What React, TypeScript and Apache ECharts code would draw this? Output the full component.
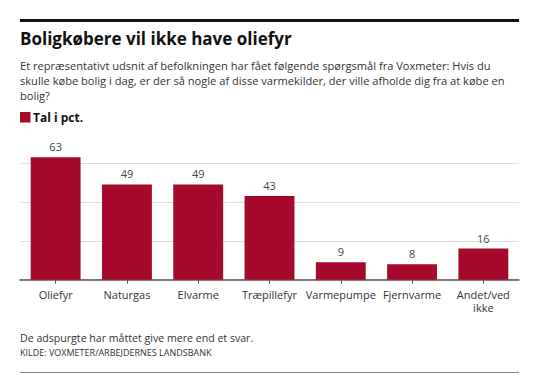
import React, { useEffect, useRef } from "react";
import * as echarts from "echarts";

const categories = ["Oliefyr", "Naturgas", "Elvarme", "Træpillefyr", "Varmepumpe", "Fjernvarme", "Andet/ved ikke"];
const values = [63, 49, 49, 43, 9, 8, 16];
const titleText = "Boligkøbere vil ikke have oliefyr";
const subtitleLines = [
  "Et repræsentativt udsnit af befolkningen har fået følgende spørgsmål fra Voxmeter: Hvis du",
  "skulle købe bolig i dag, er der så nogle af disse varmekilder, der ville afholde dig fra at købe en",
  "bolig?",
];
const legendText = "Tal i pct.";
const noteText = "De adspurgte har måttet give mere end et svar.";
const sourceText = "KILDE: VOXMETER/ARBEJDERNES LANDSBANK";

const FONT = "'Open Sans', 'Noto Sans', sans-serif";
const BAR = "#a50a2d";

export default function App() {
  const ref = useRef<HTMLDivElement>(null);
  useEffect(() => {
    if (!ref.current) return;
    const chart = echarts.init(ref.current, null, { renderer: "svg" });
    chart.setOption({
      animation: false,
      backgroundColor: "#ffffff",
      grid: { left: 20, right: 16, top: 124.2, bottom: 107.3, containLabel: false },
      xAxis: {
        type: "category",
        data: categories,
        axisLine: { show: true, lineStyle: { color: "#555555", width: 1.5 } },
        axisTick: { show: true, alignWithLabel: true, length: 4, lineStyle: { color: "#555555" } },
        axisLabel: {
          interval: 0,
          margin: 8,
          color: "#333333",
          fontFamily: FONT,
          fontSize: 11,
          lineHeight: 13,
          formatter: (v: string) => (v.length > 12 ? v.replace(" ", "\n") : v),
        },
      },
      yAxis: {
        type: "value",
        min: 0,
        max: 80,
        interval: 20,
        axisLabel: { show: false },
        axisLine: { show: false },
        axisTick: { show: false },
        splitLine: { show: true, showMaxLine: false, lineStyle: { color: "#dddddd", width: 1 } },
      },
      series: [
        {
          type: "bar",
          data: values,
          barCategoryGap: "30%",
          itemStyle: { color: BAR },
          label: {
            show: true,
            position: "top",
            distance: 5,
            color: "#444444",
            fontFamily: FONT,
            fontSize: 11,
          },
        },
      ],
      graphic: [
        { type: "rect", shape: { x: 20, y: 19, width: 499, height: 3 }, style: { fill: "#111111" } },
        {
          type: "text",
          x: 20,
          y: 38.5,
          style: { text: titleText, font: `bold 17px ${FONT}`, fill: "#111111", verticalAlign: "middle" },
        },
        ...subtitleLines.map((t, i) => ({
          type: "text",
          x: 20,
          y: 65.5 + i * 15.2,
          style: { text: t, font: `11.1px ${FONT}`, fill: "#333333", verticalAlign: "middle" },
        })),
        { type: "rect", shape: { x: 20, y: 112, width: 10.5, height: 10.5 }, style: { fill: BAR } },
        {
          type: "text",
          x: 33,
          y: 117.5,
          style: { text: legendText, font: `bold 12px ${FONT}`, fill: "#111111", verticalAlign: "middle" },
        },
        {
          type: "text",
          x: 20,
          y: 337.5,
          style: { text: noteText, font: `10.6px ${FONT}`, fill: "#333333", verticalAlign: "middle" },
        },
        {
          type: "text",
          x: 20,
          y: 352.5,
          style: { text: sourceText, font: `9px ${FONT}`, fill: "#333333", verticalAlign: "middle" },
        },
        { type: "rect", shape: { x: 20, y: 372, width: 499, height: 1 }, style: { fill: "#888888" } },
      ],
    });
    return () => chart.dispose();
  }, []);
  return (
    <div
      ref={ref}
      style={{ position: "fixed", left: 0, top: 0, width: 535, height: 387, background: "#fff" }}
    />
  );
}
